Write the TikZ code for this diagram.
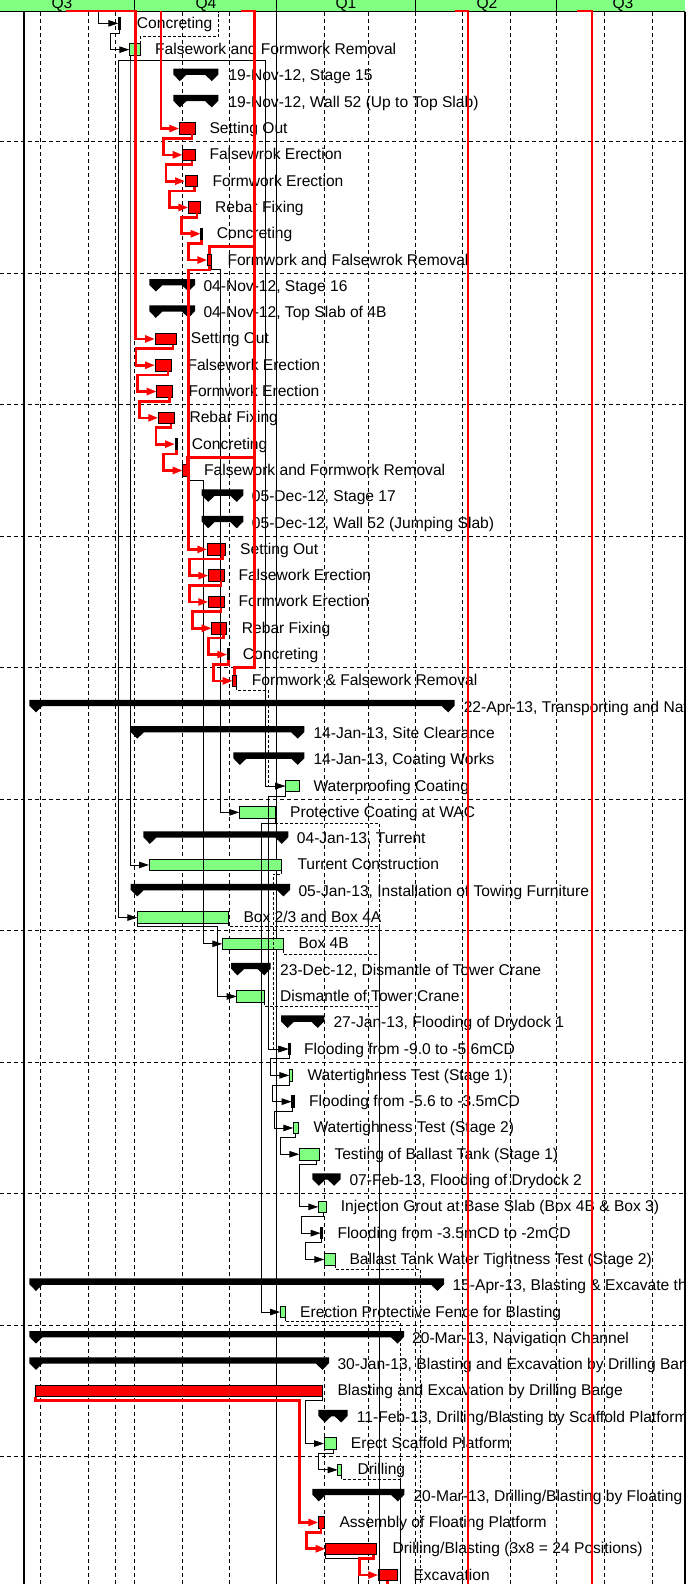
\documentclass[tikz,border=0pt]{standalone}
\usepackage{fontspec}
\setmainfont{Liberation Sans}
\usetikzlibrary{arrows.meta,calc}
\definecolor{ggreen}{HTML}{80FF80}
\definecolor{gred}{HTML}{FF0000}
\tikzset{
 taskbar/.style={rectangle,draw=black,line width=0.9pt,minimum height=11.5pt,inner sep=0pt,outer sep=0pt},
 lbl/.style={anchor=base west,inner sep=0pt,font=\fontsize{15.6}{18}\selectfont},
 hdr/.style={anchor=base,inner sep=0pt,font=\fontsize{15.6}{18}\selectfont},
 lk/.style={draw=black,line width=0.9pt,-{Triangle[length=10pt,width=6.5pt]}},
 lkn/.style={draw=black,line width=0.9pt},
 lkd/.style={draw=black,line width=0.9pt,dash pattern=on 3pt off 2pt},
 lkda/.style={lkd,-{Triangle[length=10pt,width=6.5pt]}},
 rk/.style={draw=gred,line width=2.7pt,-{Triangle[length=10pt,width=7pt]}},
 rkn/.style={draw=gred,line width=2.7pt},
 gridl/.style={draw=black,line width=0.9pt,dash pattern=on 4pt off 3pt},
}
\newcommand\gtask[6]{%
  \pgfmathsetmacro\gy{23.35+26.3*#1}%
  \pgfmathsetmacro\gw{#3-#2}%
  \node[taskbar,fill=#4,minimum width=\gw pt,anchor=west] (b#1) at (#2,\gy) {};
  \node[lbl] (l#1) at (#5,{\gy+5}) {#6};
}
\newcommand\gsum[5]{%
  \pgfmathsetmacro\gy{23.35+26.3*#1}%
  \coordinate (b#1) at (#2,\gy);
  \fill[black] (#2,{\gy-7.3}) -- (#3,{\gy-7.3}) -- (#3,{\gy-1.5}) -- ({#3-6.5},{\gy+5.2}) -- ({#3-13},{\gy-1}) -- ({#2+13},{\gy-1}) -- ({#2+6.5},{\gy+5.2}) -- (#2,{\gy-1.5}) -- cycle;
  \node[lbl] (l#1) at (#4,{\gy+5}) {#5};
}
\newcommand\glink[5]{%
  \draw[#1] (#2) -- ++(0,#3) -| ([xshift=-#4pt]b#5.west) -- (b#5.west);
}
\newcommand\gslink[3]{\glink{#1}{$(b#2.south east)+(-3,0)$}{4}{19}{#3}}
\newcommand\gclink[3]{\glink{#1}{b#2.south}{4}{19}{#3}}
\begin{document}
\begin{tikzpicture}[x=1pt,y=-1pt]
\useasboundingbox (0,0) rectangle (700,1584);
\fill[white] (0,0) rectangle (700,1584);
% header
\fill[ggreen] (0,0) rectangle (685,11.7);
\node[hdr] (q1) at (62,8.3) {Q3};
\node[hdr] (q2) at (206,8.3) {Q4};
\node[hdr] (q3) at (346,8.3) {Q1};
\node[hdr] (q4) at (487,8.3) {Q2};
\node[hdr] (q5) at (623,8.3) {Q3};
\foreach \x in {134.7,276.9,415.9,556.5} \draw[line width=1pt] (\x,0) -- (\x,11.7);
\draw[line width=1.3pt] (0,11.7) -- (685,11.7);
\begin{scope}
\clip (0,0) rectangle (685,1584);
% grid
\foreach \x in {40.5,88.4,115.5,134.7,182.6,229,324.8,368,415.9,462.3,510.2,556.5,604.4,652.3}
  \draw[gridl] (\x,12.4) -- (\x,1584);
\foreach \k in {0,...,10} \draw[gridl] (0,{141.7+131.5*\k}) -- (685,{141.7+131.5*\k});
\draw[line width=1.1pt] (276.9,12) -- (276.9,1584);
\draw[line width=1.1pt] (24,12) -- (24,1584);
% bars
\gtask{0}{118.3}{120.7}{black}{136.7}{Concreting}
\gtask{1}{129.3}{140}{ggreen}{155}{Falsework and Formwork Removal}
\gsum{2}{173.3}{218.3}{228.3}{19-Nov-12, Stage 15}
\gsum{3}{173.3}{218.3}{228.3}{19-Nov-12, Wall 52 (Up to Top Slab)}
\gtask{4}{179.3}{195}{gred}{209.3}{Setting Out}
\gtask{5}{182.7}{195}{gred}{209.3}{Falsewrok Erection}
\gtask{6}{185}{197.7}{gred}{212.3}{Formwork Erection}
\gtask{7}{188.3}{200}{gred}{215}{Rebar Fixing}
\gtask{8}{200.7}{202.3}{black}{216.7}{Concreting}
\gtask{9}{207.3}{211.3}{gred}{227.3}{Formwork and Falsewrok Removal}
\gsum{10}{149.3}{195}{203.3}{04-Nov-12, Stage 16}
\gsum{11}{149.3}{195}{203.3}{04-Nov-12, Top Slab of 4B}
\gtask{12}{155}{176}{gred}{190.7}{Setting Out}
\gtask{13}{155}{171}{gred}{187.3}{Falsework Erection}
\gtask{14}{156.7}{172.7}{gred}{188.3}{Formwork Erection}
\gtask{15}{158.3}{174}{gred}{189.3}{Rebar Fixing}
\gtask{16}{175}{177.3}{black}{191.7}{Concreting}
\gtask{17}{182.7}{187.3}{gred}{204}{Falsework and Formwork Removal}
\gsum{18}{201.7}{243.3}{251.7}{05-Dec-12, Stage 17}
\gsum{19}{201.7}{243.3}{251.7}{05-Dec-12, Wall 52 (Jumping Slab)}
\gtask{20}{207.3}{225.7}{gred}{240}{Setting Out}
\gtask{21}{208.3}{224}{gred}{238.3}{Falsework Erection}
\gtask{22}{208.3}{224}{gred}{238.3}{Formwork Erection}
\gtask{23}{211.7}{226.7}{gred}{241.7}{Rebar Fixing}
\gtask{24}{227.3}{229}{black}{242.7}{Concreting}
\gtask{25}{232.7}{236.7}{gred}{251.7}{Formwork \& Falsework Removal}
\gsum{26}{29.4}{454.7}{463.6}{22-Apr-13, Transporting and Navigation}
\gsum{27}{130.7}{304.3}{313.3}{14-Jan-13, Site Clearance}
\gsum{28}{233.3}{304.3}{313.3}{14-Jan-13, Coating Works}
\gtask{29}{285}{299}{ggreen}{313.3}{Waterproofing Coating}
\gtask{30}{239.3}{275}{ggreen}{290}{Protective Coating at WAC}
\gsum{31}{143.3}{288.3}{296.7}{04-Jan-13, Turrent}
\gtask{32}{149}{281.7}{ggreen}{297.3}{Turrent Construction}
\gsum{33}{130.7}{290}{298.3}{05-Jan-13, Installation of Towing Furniture}
\gtask{34}{137.3}{228.3}{ggreen}{243.3}{Box 2/3 and Box 4A}
\gtask{35}{222.3}{283.3}{ggreen}{298.3}{Box 4B}
\gsum{36}{231}{270.7}{280}{23-Dec-12, Dismantle of Tower Crane}
\gtask{37}{236.7}{264.3}{ggreen}{280}{Dismantle of Tower Crane}
\gsum{38}{281}{324.3}{333.3}{27-Jan-13, Flooding of Drydock 1}
\gtask{39}{288.3}{290}{black}{304}{Flooding from -9.0 to -5.6mCD}
\gtask{40}{289.3}{292.7}{ggreen}{307.3}{Watertighness Test (Stage 1)}
\gtask{41}{291.7}{294}{black}{309}{Flooding from -5.6 to -3.5mCD}
\gtask{42}{293.3}{298.3}{ggreen}{313.3}{Watertighness Test (Stage 2)}
\gtask{43}{299.3}{319}{ggreen}{334.3}{Testing of Ballast Tank (Stage 1)}
\gsum{44}{312.3}{340.7}{349.3}{07-Feb-13, Flooding of Drydock 2}
\gtask{45}{318.3}{326}{ggreen}{340.7}{Injection Grout at Base Slab (Box 4B \& Box 3)}
\gtask{46}{320.7}{322.7}{black}{337.3}{Flooding from -3.5mCD to -2mCD}
\gtask{47}{324.3}{335}{ggreen}{349.3}{Ballast Tank Water Tightness Test (Stage 2)}
\gsum{48}{29.4}{444}{452.4}{15-Apr-13, Blasting \& Excavate the}
\gtask{49}{280}{285}{ggreen}{300}{Erection Protective Fence for Blasting}
\gsum{50}{29.4}{404}{412}{20-Mar-13, Navigation Channel}
\gsum{51}{29.4}{329}{337.3}{30-Jan-13, Blasting and Excavation by Drilling Barge}
\gtask{52}{35.2}{322.5}{gred}{337.3}{Blasting and Excavation by Drilling Barge}
\gsum{53}{318.3}{347.7}{356.7}{11-Feb-13, Drilling/Blasting by Scaffold Platform}
\gtask{54}{324}{336}{ggreen}{350.7}{Erect Scaffold Platform}
\gtask{55}{337.7}{341.7}{ggreen}{357.3}{Drilling}
\gsum{56}{312.3}{404.3}{413.3}{20-Mar-13, Drilling/Blasting by Floating Platform}
\gtask{57}{318.3}{324}{gred}{339.3}{Assembly of Floating Platform}
\gtask{58}{325.7}{376.7}{gred}{392.3}{Drilling/Blasting (3x8 = 24 Positions)}
\gtask{59}{378.3}{397.3}{gred}{413.3}{Excavation}
% black links
\coordinate (t0) at (98.4,12);
\draw[lk] (t0) |- (b0.west);
\gclink{lk}{0}{1}
\coordinate (t1) at (218.3,12);
\draw[lkd] (b1.north east) |- (218.3,36.7) -- (t1);
\glink{lk}{$(b1.south west)+(0.7,0)$}{5.3}{19}{34}
\glink{lk}{$(b1.south west)+(0.7,0)$}{5.3}{19}{32}
\glink{lk}{$(b1.south west)+(0.7,0)$}{5.3}{19.3}{29}
\glink{lk}{b9.south east}{3.5}{19}{30}
\glink{lk}{b17.south east}{4.5}{19}{35}
\glink{lkda}{b25.south east}{4}{16.7}{29}
\glink{lk}{b29.south west}{4.2}{20}{39}
\glink{lk}{b30.south east}{5}{18.3}{49}
\glink{lkda}{b32.south east}{3.5}{15}{39}
\glink{lk}{b34.south west}{3.5}{19.4}{37}
\draw[lkd] (b30.south east) -- ++(0,5) -| (379.3,1006.7);
\draw[lkd] (b34.south east) -- ++(0,3.5) -| (379.3,1006.7);
\draw[lkd] (b35.south east) -- ++(0,4.5) -| (379.3,1006.7);
\draw[lkd] (b37.south east) -- ++(0,4.5) -| (379.3,1006.7);
\coordinate (e379) at (379.3,1584);
\draw[lkn] (379.3,1006.7) -- (e379);
\gclink{lk}{39}{40}
\gslink{lk}{40}{41}
\gclink{lk}{41}{42}
\gslink{lk}{42}{43}
\gslink{lk}{43}{45}
\gslink{lk}{45}{46}
\gclink{lk}{46}{47}
\coordinate (e47) at (420.7,1584);
\draw[lkd] (b47.south east) -- ++(0,4) -| (e47);
\coordinate (j400) at (400,1479.6);
\draw[lkd] (b49.south east) -- ++(0,4) -| (j400);
\draw[lkd] (b55.south east) -- ++(0,4) -| (j400);
\coordinate (e400) at (400,1584);
\draw[lkn] (j400) -- (e400);
\glink{lk}{b52.south east}{4}{19}{54}
\gslink{lk}{54}{55}
\coordinate (e358) at (358.3,1584);
\draw[lkn] (b58.south west) -- ++(0,4) -| (e358);
% red links
\coordinate (r161) at (161,11);
\draw[rk] (r161) |- (b4.west);
\gslink{rk}{4}{5}
\gslink{rk}{5}{6}
\gslink{rk}{6}{7}
\gslink{rk}{7}{8}
\gclink{rk}{8}{9}
\coordinate (r66) at (66.3,11);
\draw[rk] (r66) -- (135.5,11) |- (b12.west);
\gslink{rk}{12}{13}
\gslink{rk}{13}{14}
\gslink{rk}{14}{15}
\gslink{rk}{15}{16}
\gclink{rk}{16}{17}
\glink{rk}{b9.south}{4.2}{19}{20}
\gslink{rk}{20}{21}
\gslink{rk}{21}{22}
\gslink{rk}{22}{23}
\gslink{rk}{23}{24}
\gclink{rk}{24}{25}
\coordinate (r241) at (241,11);
\draw[rkn] (b25.north) |- (254.5,667.7) -- (254.5,11) -- (r241);
\draw[rkn] (b9.north) |- (254.5,246.7);
\draw[rkn] (b17.north east) |- (254.5,457.3);
\glink{rk}{b52.south west}{4}{19}{57}
\gslink{rk}{57}{58}
\gslink{rk}{58}{59}
\draw[rkn] (b59.south) -- ++(0,20);
\coordinate (r455) at (455,11);
\coordinate (r468) at (468,1584);
\draw[rkn] (r455) -- (468,11) -- (r468);
\coordinate (r577) at (577,11);
\coordinate (r592) at (592,1584);
\draw[rkn] (r577) -- (592,11) -- (r592);
\end{scope}
\draw[line width=1.1pt] (685,11.7) -- (685,1584);
\end{tikzpicture}
\end{document}
